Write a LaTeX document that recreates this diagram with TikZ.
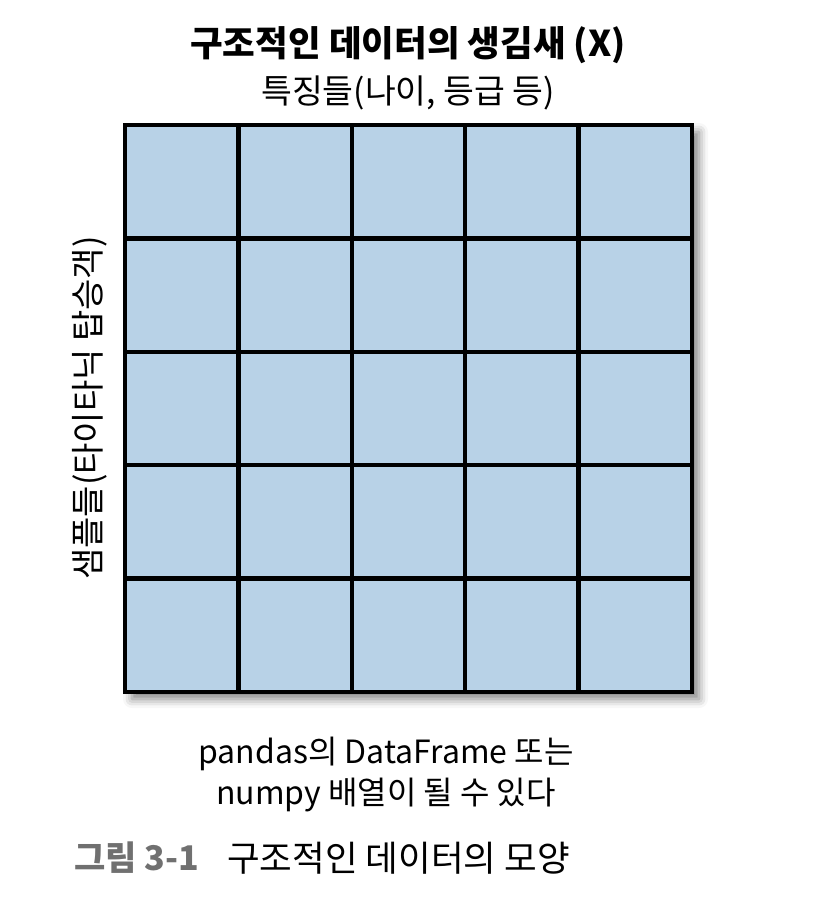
\documentclass[tikz,border=0pt]{standalone}
\usepackage{fontspec}
\setmainfont{Noto Sans CJK KR}
\usetikzlibrary{positioning,shadows.blur}
\definecolor{cellblue}{HTML}{B8D2E7}
\definecolor{capgray}{HTML}{707070}

\begin{document}
\begin{tikzpicture}[x=1pt,y=-1pt,line width=4.5pt,
        label/.style={font=\fontsize{32}{37}\selectfont,inner sep=0pt,align=center}]
        \useasboundingbox (0,0) rectangle (834,910);
        % cells
        \fill[cellblue,blur shadow={shadow xshift=7pt,shadow yshift=-7pt,shadow blur radius=9pt,shadow opacity=50}] (125,125) rectangle (692,692);
        \foreach \i in {1,...,4} {
            \draw ({125+\i*113.4},125) -- ({125+\i*113.4},692);
            \draw (125,{125+\i*113.4}) -- (692,{125+\i*113.4});
        }
        \draw (125,125) rectangle (692,692);
        \node[label,font=\fontsize{35.5}{40}\selectfont\bfseries] (title) at (408,45) {구조적인 데이터의 생김새 (X)};
        \node[label,font=\fontsize{33.5}{38}\selectfont] (feat) at (408,93) {특징들(나이, 등급 등)};
        \node[label,rotate=90,font=\fontsize{34}{38}\selectfont] (samp) at (90,408) {샘플들(타이타닉 탑승객)};
        \node[label] (note) at (386,775) {pandas의 DataFrame 또는\\[4pt]numpy 배열이 될 수 있다};
        \node[label,anchor=west,text=capgray,font=\fontsize{34}{38}\selectfont\bfseries] (fig) at (72,858) {그림 3-1};
        \node[label,anchor=west,font=\fontsize{35.5}{40}\selectfont] (cap) at (225,858) {구조적인 데이터의 모양};
    \end{tikzpicture}
\end{document}
